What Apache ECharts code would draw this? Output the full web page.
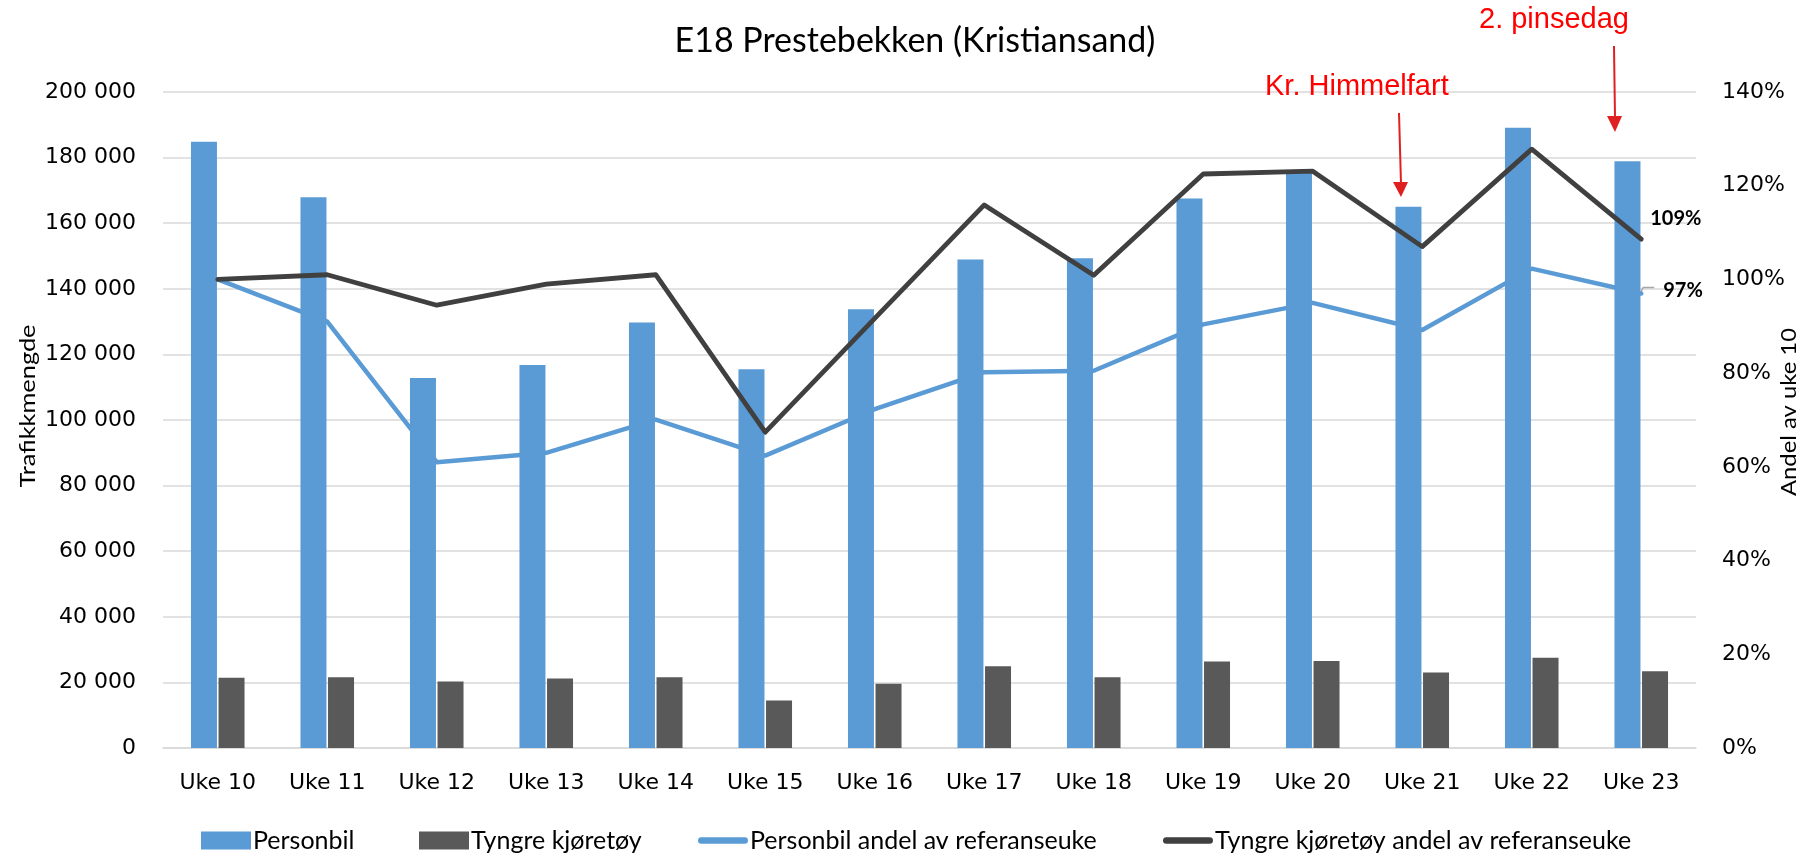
<!DOCTYPE html>
<html>
<head>
<meta charset="utf-8">
<title>E18 Prestebekken (Kristiansand)</title>
<script src="https://cdn.jsdelivr.net/npm/echarts@6/dist/echarts.min.js"></script>
<style>
  html, body { margin: 0; padding: 0; background: #fff; }
  #chart { width: 1806px; height: 856px; }
</style>
</head>
<body>
<div id="chart"></div>
<script>
// uker
const weeks = ['Uke 10', 'Uke 11', 'Uke 12', 'Uke 13', 'Uke 14', 'Uke 15', 'Uke 16',
  'Uke 17', 'Uke 18', 'Uke 19', 'Uke 20', 'Uke 21', 'Uke 22', 'Uke 23']
// trafikkmengde per uke
const personbil = [184800, 167900, 112800, 116800, 129700, 115500, 133800,
  148900, 149300, 167500, 175500, 165000, 189100, 178900]
const tyngre = [21400, 21600, 20300, 21200, 21600, 14500, 19600,
  24900, 21600, 26400, 26500, 23000, 27500, 23400]
// andel av referanseuke (uke 10), prosent
const personbilAndel = [100, 91.0, 61.0, 63.0, 70.1, 62.4, 72.3,
  80.2, 80.5, 90.4, 95.0, 89.2, 102.3, 97.0]
const tyngreAndel = [100, 101.0, 94.5, 99.0, 101.0, 67.4, 91.7,
  115.9, 100.9, 122.5, 123.1, 107.0, 127.8, 108.6]

const blue = '#5B9BD5'
const dark = '#595959'
const darkLine = '#404040'
const red = '#FF0000'
const arrowRed = '#E02020'
const tickFont = 'DejaVu Sans'
const textFont = 'Lato'

function thousands(v) {
  return String(v).replace(/\B(?=(\d{3})+(?!\d))/g, ' ')
}

function pct(p) {
  return Math.round(p.value) + '%'
}

// tekstbredde, brukes til å strekke aksetitlene slik som i originalen
function textWidth(text, font) {
  const ctx = document.createElement('canvas').getContext('2d')
  ctx.font = font
  return ctx.measureText(text).width
}

const lineIcon = 'path://M4,0 h52 a4,4 0 0 1 0,8 h-52 a4,4 0 0 1 0,-8 z'
const legendText = { fontFamily: textFont, fontSize: 25, color: '#000', padding: [0, 0, 0, -3] }

function legendItem(name, icon, left) {
  return {
    left: left - 5,
    top: 823,
    itemWidth: 50,
    itemHeight: 18,
    textStyle: legendText,
    data: [{ name: name, icon: icon }]
  }
}

const chart = echarts.init(document.getElementById('chart'))

chart.setOption({
  animation: false,
  title: {
    text: 'E18 Prestebekken (Kristiansand)',
    left: 910,
    textAlign: 'center',
    top: 19,
    textStyle: { fontFamily: textFont, fontSize: 34, fontWeight: 'normal', color: '#000' }
  },
  grid: { left: 163, right: 110, top: 92, bottom: 108 },
  legend: [
    legendItem('Personbil', 'rect', 201),
    legendItem('Tyngre kjøretøy', 'rect', 419),
    legendItem('Personbil andel av referanseuke', lineIcon, 698),
    legendItem('Tyngre kjøretøy andel av referanseuke', lineIcon, 1163)
  ],
  xAxis: {
    type: 'category',
    data: weeks,
    axisLine: { lineStyle: { color: '#D9D9D9', width: 1.5 } },
    axisTick: { show: false },
    axisLabel: { fontFamily: tickFont, fontSize: 22, color: '#000', margin: 24 }
  },
  yAxis: [
    {
      type: 'value',
      min: 0,
      max: 200000,
      interval: 20000,
      axisLine: { show: false },
      axisTick: { show: false },
      splitLine: { lineStyle: { color: '#D9D9D9', width: 1.5 } },
      axisLabel: { fontFamily: tickFont, fontSize: 22, color: '#000', margin: 27, formatter: thousands }
    },
    {
      type: 'value',
      min: 0,
      max: 140,
      interval: 20,
      axisLine: { show: false },
      axisTick: { show: false },
      splitLine: { show: false },
      axisLabel: { fontFamily: tickFont, fontSize: 22, color: '#000', margin: 26, formatter: '{value}%' }
    }
  ],
  series: [
    {
      name: 'Personbil',
      type: 'bar',
      barWidth: 26,
      barGap: '6%',
      itemStyle: { color: blue },
      data: personbil
    },
    {
      name: 'Tyngre kjøretøy',
      type: 'bar',
      barWidth: 26,
      itemStyle: { color: dark },
      data: tyngre
    },
    {
      name: 'Personbil andel av referanseuke',
      type: 'line',
      yAxisIndex: 1,
      symbol: 'none',
      lineStyle: { color: blue, width: 4.5, cap: 'round', join: 'round' },
      itemStyle: { color: blue },
      endLabel: {
        show: true,
        distance: 22,
        offset: [0, -3],
        fontFamily: textFont,
        fontWeight: 'bold',
        fontSize: 20,
        color: '#000',
        formatter: pct
      },
      data: personbilAndel
    },
    {
      name: 'Tyngre kjøretøy andel av referanseuke',
      type: 'line',
      yAxisIndex: 1,
      symbol: 'none',
      lineStyle: { color: darkLine, width: 4.8, cap: 'round', join: 'round' },
      itemStyle: { color: darkLine },
      endLabel: {
        show: true,
        distance: 9,
        offset: [0, -21],
        fontFamily: textFont,
        fontWeight: 'bold',
        fontSize: 20,
        color: '#000',
        formatter: pct
      },
      data: tyngreAndel
    }
  ]
})

// aksetitler (strukket på langs, som i originalen)
const nameFont = '22px Lato'
const leftName = 'Trafikkmengde'
const rightName = 'Andel av uke 10'
const leftStretch = 163 / textWidth(leftName, nameFont)
const rightStretch = 168 / textWidth(rightName, nameFont)

const graphics = [
  {
    type: 'text', x: 28, y: 406, rotation: Math.PI / 2, scaleX: leftStretch,
    style: { text: leftName, font: nameFont, fill: '#000', align: 'center', verticalAlign: 'middle' }
  },
  {
    type: 'text', x: 1789, y: 412, rotation: Math.PI / 2, scaleX: rightStretch,
    style: { text: rightName, font: nameFont, fill: '#000', align: 'center', verticalAlign: 'middle' }
  },
  // Kr. Himmelfart
  {
    type: 'text', left: 1265, top: 72,
    style: { text: 'Kr. Himmelfart', font: '29px "Liberation Sans"', fill: red }
  },
  {
    type: 'line', shape: { x1: 1399, y1: 113, x2: 1401, y2: 184 },
    style: { stroke: arrowRed, lineWidth: 2 }
  },
  {
    type: 'polygon', shape: { points: [[1393, 182], [1408, 182], [1401, 197]] },
    style: { fill: arrowRed }
  },
  // 2. pinsedag
  {
    type: 'text', left: 1479, top: 5,
    style: { text: '2. pinsedag', font: '29px "Liberation Sans"', fill: red }
  },
  {
    type: 'line', shape: { x1: 1614, y1: 46, x2: 1615, y2: 118 },
    style: { stroke: arrowRed, lineWidth: 2 }
  },
  {
    type: 'polygon', shape: { points: [[1607, 116], [1622, 116], [1615, 132]] },
    style: { fill: arrowRed }
  }
]

// liten hjelpelinje til 97 %-etiketten, festet til siste punkt
const last = personbilAndel.length - 1
const pt = chart.convertToPixel({ xAxisIndex: 0, yAxisIndex: 1 }, [last, personbilAndel[last]])
if (pt) {
  graphics.push({
    type: 'polyline',
    shape: { points: [[pt[0] - 2, pt[1] + 2], [pt[0] + 2, pt[1] - 6], [pt[0] + 13, pt[1] - 6]] },
    style: { stroke: '#A6A6A6', lineWidth: 1.5, fill: null }
  })
}

chart.setOption({ graphic: graphics })
</script>
</body>
</html>
